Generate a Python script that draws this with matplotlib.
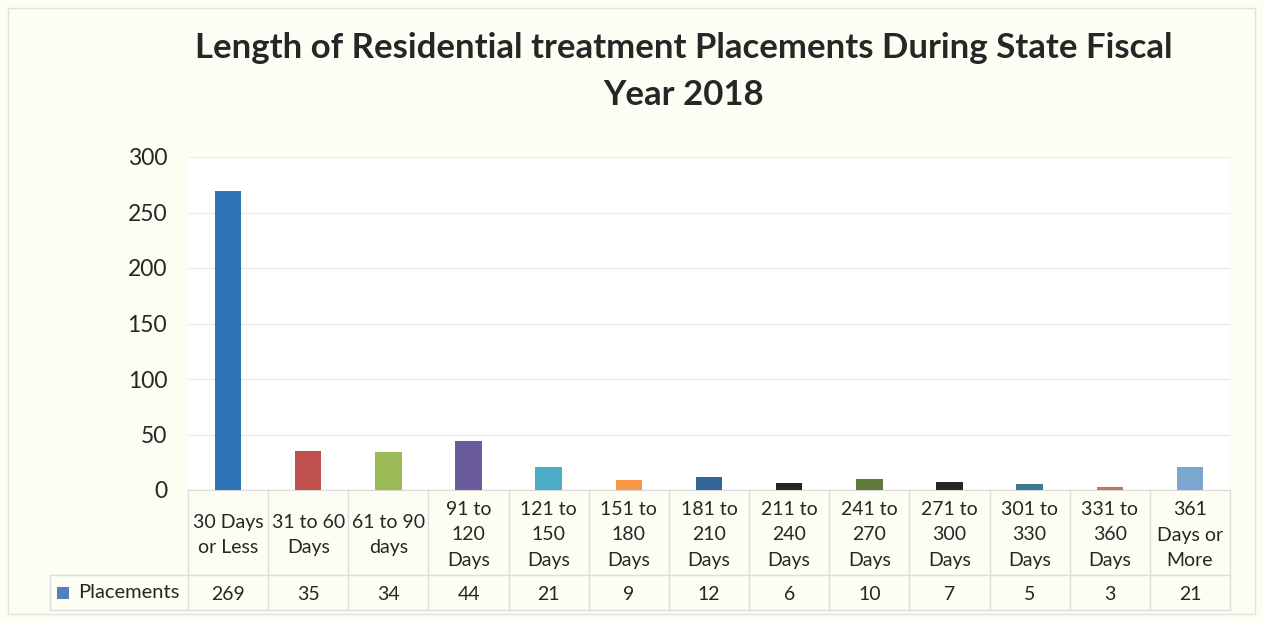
import matplotlib.pyplot as plt
from matplotlib.patches import Rectangle
from matplotlib.transforms import blended_transform_factory
import numpy as np

plt.rcParams['font.family'] = ['Lato', 'DejaVu Sans']

categories = ['30 Days\nor Less', '31 to 60\nDays', '61 to 90\ndays', '91 to\n120\nDays',
              '121 to\n150\nDays', '151 to\n180\nDays', '181 to\n210\nDays', '211 to\n240\nDays',
              '241 to\n270\nDays', '271 to\n300\nDays', '301 to\n330\nDays', '331 to\n360\nDays',
              '361\nDays or\nMore']
placements = [269, 35, 34, 44, 21, 9, 12, 6, 10, 7, 5, 3, 21]
bar_colors = ['#2e73b4', '#c0504d', '#9bbb59', '#6a5a9e', '#4bacc6', '#f79646', '#336694',
              '#262626', '#5f7a3a', '#262626', '#3b7a90', '#b87a5a', '#7aa6cf']
y_ticks = [0, 50, 100, 150, 200, 250, 300]

W, H = 1263, 622
fig = plt.figure(figsize=(W / 100, H / 100), dpi=100, facecolor='#fdfdf4')

# outer chart border
fig.add_artist(Rectangle((8 / W, 8 / H), 1247 / W, 606 / H, transform=fig.transFigure,
                         fill=False, edgecolor='#e2e2da', linewidth=1))

left, right, top, bottom = 188, 1230, 157, 490
ax = fig.add_axes([left / W, 1 - bottom / H, (right - left) / W, (bottom - top) / H])
ax.set_facecolor('white')

x = np.arange(len(placements))
ax.bar(x, placements, width=0.33, color=bar_colors, zorder=3)
ax.set_xlim(-0.5, len(placements) - 0.5)
ax.set_ylim(0, 300)
ax.set_yticks(y_ticks)
ax.tick_params(axis='y', length=0, labelsize=16.5, pad=15, colors='#262626')
ax.set_xticks([])
ax.grid(axis='y', color='#ececec', linewidth=1, zorder=0)
for s in ['top', 'right', 'left']:
    ax.spines[s].set_visible(False)
ax.spines['bottom'].set_color('#d9d9d9')

fig.text(684 / W, 1 - 48 / H, 'Length of Residential treatment Placements During State Fiscal',
         ha='center', va='center', fontsize=25, fontweight='bold', color='#262626')
fig.text(684 / W, 1 - 95 / H, 'Year 2018', ha='center', va='center', fontsize=25,
         fontweight='bold', color='#262626')

# data table below the axes
trans = blended_transform_factory(ax.transData, fig.transFigure)
line_col = '#dedede'
row_mid = 575
table_bot = 610
for i, (c, v) in enumerate(zip(categories, placements)):
    ax.text(i, 1 - 535 / H, c, transform=trans, ha='center', va='center', fontsize=14,
            color='#262626', linespacing=1.6)
    ax.text(i, 1 - 595 / H, str(v), transform=trans, ha='center', va='center', fontsize=14,
            color='#262626')
for b in np.arange(len(placements) + 1) - 0.5:
    ax.plot([b, b], [1 - bottom / H, 1 - table_bot / H], transform=trans, color=line_col,
            linewidth=1, clip_on=False)
fig.add_artist(plt.Line2D([50 / W, right / W], [1 - row_mid / H, 1 - row_mid / H], color=line_col, linewidth=1))
fig.add_artist(plt.Line2D([50 / W, right / W], [1 - table_bot / H, 1 - table_bot / H], color=line_col, linewidth=1))
fig.add_artist(plt.Line2D([50 / W, 50 / W], [1 - row_mid / H, 1 - table_bot / H], color=line_col, linewidth=1))

fig.add_artist(Rectangle((57 / W, 1 - 599 / H), 12 / W, 12 / H, transform=fig.transFigure,
                         facecolor='#4f81bd', edgecolor='none'))
fig.text(78 / W, 1 - 593 / H, 'Placements', ha='left', va='center', fontsize=14.5, color='#262626')

fig.savefig('out.png', dpi=100, facecolor=fig.get_facecolor())
